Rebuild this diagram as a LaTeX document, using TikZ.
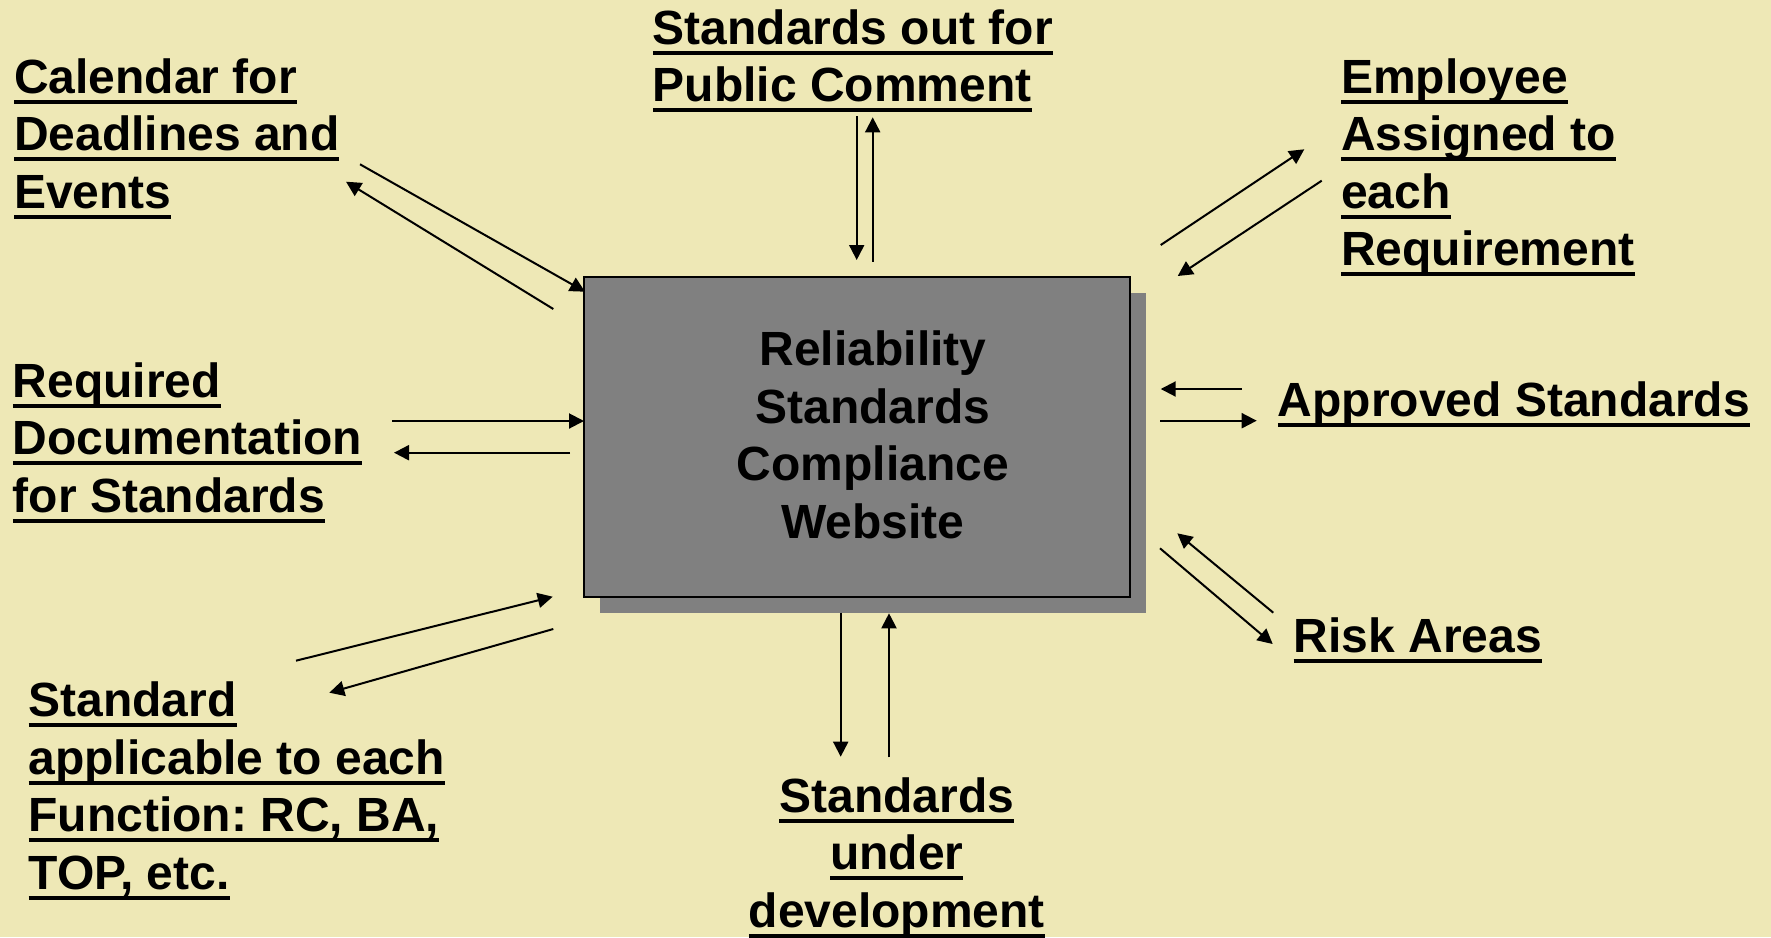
\documentclass[tikz,border=0pt]{standalone}
\usepackage{fontspec}
\setmainfont{Liberation Sans}
\usetikzlibrary{arrows.meta,shadows}
\definecolor{bg}{RGB}{238,232,182}
\definecolor{boxgray}{RGB}{128,128,128}
\newcommand\ulx[1]{\setbox0=\hbox{#1}\rlap{\rule[-5.2pt]{\wd0}{2.1pt}}\rule{0pt}{19pt}\box0}
\frenchspacing
\begin{document}
\frenchspacing
\begin{tikzpicture}[x=0.5pt,y=-0.5pt,
  font=\fontsize{24pt}{28.75pt}\selectfont\bfseries\frenchspacing,
  lbl/.style={inner sep=0pt, anchor=north west, align=left},
  lblc/.style={inner sep=0pt, anchor=north, align=center},
  link/.style={line width=1pt, -{Triangle[length=7.5pt,width=7.5pt]}},
  box/.style={draw=black, line width=1pt, fill=boxgray, minimum width=272.75pt,
    minimum height=159.75pt, inner sep=0pt,
    drop shadow={shadow xshift=8pt, shadow yshift=-8pt, fill=boxgray, opacity=1}}]
\fill[bg] (0,0) rectangle (1771,937);
\useasboundingbox (0,0) rectangle (1771,937);

% central box
\node[box] (web) at (856.75,436.75) {};
\node[lblc] (webtxt) at (873,327.5) {\rule{0pt}{19pt}Reliability\\Standards\\Compliance\\Website};

% labels
\node[lbl] (cal) at (13.6,55) {\ulx{Calendar for}\\\ulx{Deadlines and}\\\ulx{Events}};
\node[lbl] (pub) at (652.5,6) {\ulx{Standards out for}\\\ulx{Public Comment}};
\node[lbl] (emp) at (1340.7,55) {\ulx{Employee}\\\ulx{Assigned to}\\\ulx{each}\\\ulx{Requirement}};
\node[lbl] (app) at (1277.5,378) {\ulx{Approved Standards}};
\node[lbl] (risk) at (1293.3,614.5) {\ulx{Risk Areas}};
\node[lbl] (req) at (12.5,359) {\ulx{Required}\\\ulx{Documentation}\\\ulx{for Standards}};
\node[lbl] (std) at (28.2,678.5) {\ulx{Standard}\\\ulx{applicable to each}\\\ulx{Function: RC, BA,}\\\ulx{TOP, etc.}};
\node[lblc] (dev) at (896.8,774) {\ulx{Standards}\\\ulx{under}\\\ulx{development}};

% connector end points
\coordinate (cal1s) at (360,164.3);   \coordinate (cal1e) at (585,291.7);
\coordinate (cal2s) at (553.3,309);   \coordinate (cal2e) at (346,181.7);
\coordinate (pub1s) at (856.7,116);   \coordinate (pub1e) at (856.7,260);
\coordinate (pub2s) at (872.7,261.7); \coordinate (pub2e) at (872.7,117.3);
\coordinate (emp1s) at (1160.7,245);  \coordinate (emp1e) at (1304.3,149.3);
\coordinate (emp2s) at (1321.7,180.7);\coordinate (emp2e) at (1177.7,276);
\coordinate (app1s) at (1241.7,389);  \coordinate (app1e) at (1160.7,389);
\coordinate (app2s) at (1160,420.7);  \coordinate (app2e) at (1256.7,420.7);
\coordinate (risk1s) at (1273.3,612.7); \coordinate (risk1e) at (1177.3,533.3);
\coordinate (risk2s) at (1160,548.3);   \coordinate (risk2e) at (1272.7,644);
\coordinate (dev1s) at (840.7,612.7); \coordinate (dev1e) at (840.7,756.7);
\coordinate (dev2s) at (889,757.3);   \coordinate (dev2e) at (889,613.3);
\coordinate (req1s) at (392.3,421);   \coordinate (req1e) at (584,421);
\coordinate (req2s) at (570,452.7);   \coordinate (req2e) at (394,452.7);
\coordinate (std1s) at (296,660.7);   \coordinate (std1e) at (552.7,596.7);
\coordinate (std2s) at (553.3,629);   \coordinate (std2e) at (329.3,692.7);

% connectors
\draw[link] (cal1s) -- (cal1e);
\draw[link] (cal2s) -- (cal2e);
\draw[link] (pub1s) -- (pub1e);
\draw[link] (pub2s) -- (pub2e);
\draw[link] (emp1s) -- (emp1e);
\draw[link] (emp2s) -- (emp2e);
\draw[link] (app1s) -- (app1e);
\draw[link] (app2s) -- (app2e);
\draw[link] (risk1s) -- (risk1e);
\draw[link] (risk2s) -- (risk2e);
\draw[link] (dev1s) -- (dev1e);
\draw[link] (dev2s) -- (dev2e);
\draw[link] (req1s) -- (req1e);
\draw[link] (req2s) -- (req2e);
\draw[link] (std1s) -- (std1e);
\draw[link] (std2s) -- (std2e);
\end{tikzpicture}
\end{document}
